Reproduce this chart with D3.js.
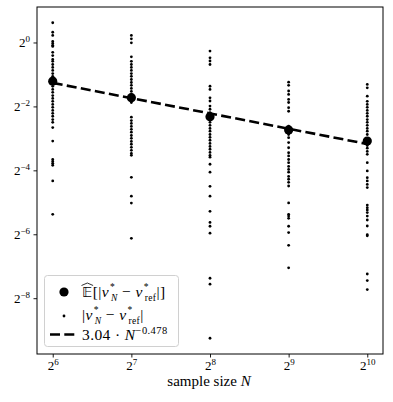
<!DOCTYPE html>
<html><head><meta charset="utf-8">
<script src="https://cdn.jsdelivr.net/npm/d3@7"></script>
<style>
body{margin:0;background:#fff}
svg{display:block}
text{font-family:"Liberation Serif",serif;fill:#000}
</style>
</head><body>
<svg id="c" width="393" height="402"></svg>
<script>
// ---------- data ----------
const sampleSizes = [64, 128, 256, 512, 1024];

const errN64 = [1.533, 1.248, 1.165, 1.021, 0.979, 0.940, 0.917, 0.807, 0.753, 0.693, 0.664, 0.620, 0.582,
  0.545, 0.510, 0.480, 0.412, 0.386, 0.361, 0.339, 0.316, 0.297, 0.279, 0.261, 0.245, 0.229, 0.215,
  0.202, 0.188, 0.177, 0.158, 0.118, 0.0791, 0.0759, 0.0728, 0.0698, 0.0497, 0.0241];
const errN128 = [1.165, 1.083, 0.993, 0.732, 0.664, 0.620, 0.582, 0.545, 0.510, 0.480, 0.448, 0.420, 0.395,
  0.369, 0.346, 0.324, 0.291, 0.272, 0.198, 0.184, 0.173, 0.162, 0.152, 0.143, 0.133, 0.125, 0.117,
  0.110, 0.103, 0.0964, 0.0902, 0.0866, 0.0537, 0.0357, 0.0307, 0.0143];
const errN256 = [0.829, 0.717, 0.669, 0.620, 0.387, 0.361, 0.301, 0.281, 0.252, 0.235, 0.218, 0.188, 0.177,
  0.166, 0.155, 0.146, 0.136, 0.128, 0.120, 0.112, 0.105, 0.0987, 0.0921, 0.0866, 0.0831, 0.0713,
  0.0600, 0.0442, 0.0357, 0.0257, 0.0202, 0.0186, 0.0160, 0.00602, 0.00530, 0.00164];
const errN512 = [0.423, 0.395, 0.349, 0.324, 0.291, 0.272, 0.243, 0.225, 0.163, 0.136, 0.127, 0.114, 0.102,
  0.0915, 0.0854, 0.0791, 0.0738, 0.0681, 0.0638, 0.0600, 0.0548, 0.0515, 0.0482, 0.0445, 0.0308,
  0.0241, 0.0232, 0.0221, 0.0186, 0.0162, 0.0123, 0.00754];
const errN1024 = [0.403, 0.374, 0.312, 0.279, 0.261, 0.245, 0.229, 0.215, 0.202, 0.188, 0.177, 0.166, 0.155,
  0.146, 0.136, 0.115, 0.107, 0.101, 0.0941, 0.0884, 0.0738, 0.0617, 0.0533, 0.0497, 0.0461, 0.0430,
  0.0294, 0.0278, 0.0265, 0.0250, 0.0232, 0.0213, 0.0187, 0.0155, 0.0151, 0.00660, 0.00572, 0.00471];
const errorsBySize = [errN64, errN128, errN256, errN512, errN1024];

const meanErrors = [0.432, 0.302, 0.200, 0.150, 0.118];
const fitCoef = 3.04;
const fitExp = -0.478;

const xTickExps = [6, 7, 8, 9, 10];
const yTickExps = [-8, -6, -4, -2, 0];
const xLabel = "sample size ";
const xLabelVar = "N";

// ---------- layout ----------
const W = 393, H = 402;
const m = {l: 37, t: 7, r: 10, b: 48};
const pw = W - m.l - m.r, ph = H - m.t - m.b;

const svg = d3.select("#c");
const g = svg.append("g").attr("transform", `translate(${m.l},${m.t})`);

const points = [];
sampleSizes.forEach((n, i) => errorsBySize[i].forEach(v => points.push({n, v})));

function padLog(ext) {
  const a = Math.log2(ext[0]), b = Math.log2(ext[1]), p = 0.05 * (b - a);
  return [Math.pow(2, a - p), Math.pow(2, b + p)];
}
const x = d3.scaleLog().base(2).domain(padLog(d3.extent(sampleSizes))).range([0, pw]);
const y = d3.scaleLog().base(2).domain(padLog(d3.extent(points, d => d.v))).range([ph, 0]);

// axes
const xAxis = g.append("g").attr("transform", `translate(0,${ph})`)
  .call(d3.axisBottom(x).tickValues(xTickExps.map(e => Math.pow(2, e))).tickSize(3.5).tickPadding(3).tickFormat(""));
const yAxis = g.append("g")
  .call(d3.axisLeft(y).tickValues(yTickExps.map(e => Math.pow(2, e))).tickSize(3.5).tickPadding(3).tickFormat(""));
[xAxis, yAxis].forEach(a => { a.select(".domain").remove(); a.selectAll("line").attr("stroke", "#000").attr("stroke-width", 0.9); });

xAxis.selectAll(".tick").append("text")
  .attr("y", 16).attr("text-anchor", "middle").attr("font-size", 13)
  .each(function(d) {
    const t = d3.select(this);
    t.append("tspan").text("2");
    t.append("tspan").attr("dy", -5).attr("font-size", 9).text(Math.round(Math.log2(d)));
  });
yAxis.selectAll(".tick").append("text")
  .attr("x", -7).attr("dy", 4.5).attr("text-anchor", "end").attr("font-size", 13)
  .each(function(d) {
    const t = d3.select(this);
    t.append("tspan").text("2");
    t.append("tspan").attr("dy", -5).attr("font-size", 9).text(String(Math.round(Math.log2(d))).replace("-", "\u2212"));
  });

// x label
const xl = svg.append("text").attr("x", m.l + pw / 2 - 1).attr("y", 386).attr("text-anchor", "middle").attr("font-size", 15);
xl.append("tspan").text(xLabel);
xl.append("tspan").attr("font-style", "italic").text(xLabelVar);

// marks
g.append("g").selectAll("circle").data(points).join("circle")
  .attr("cx", d => x(d.n)).attr("cy", d => y(d.v)).attr("r", 1.4).attr("fill", "#000");

g.append("path").datum(sampleSizes)
  .attr("d", d3.line().x(n => x(n)).y(n => y(fitCoef * Math.pow(n, fitExp))))
  .attr("fill", "none").attr("stroke", "#000").attr("stroke-width", 2.6).attr("stroke-dasharray", "10,4.3");

g.append("g").selectAll("circle").data(sampleSizes).join("circle")
  .attr("cx", n => x(n)).attr("cy", (n, i) => y(meanErrors[i])).attr("r", 4.6).attr("fill", "#000");

// frame
g.append("rect").attr("width", pw).attr("height", ph).attr("fill", "none").attr("stroke", "#000").attr("stroke-width", 1);

// legend
const lg = svg.append("g");
lg.append("rect").attr("x", 44.5).attr("y", 275.5).attr("width", 134).attr("height", 71).attr("rx", 3)
  .attr("fill", "#fff").attr("fill-opacity", 0.8).attr("stroke", "#d0d0d0").attr("stroke-width", 1);
lg.append("circle").attr("cx", 64).attr("cy", 292).attr("r", 4.6).attr("fill", "#000");
lg.append("circle").attr("cx", 64).attr("cy", 316).attr("r", 1.4).attr("fill", "#000");
lg.append("line").attr("x1", 50).attr("x2", 78).attr("y1", 334.5).attr("y2", 334.5)
  .attr("stroke", "#000").attr("stroke-width", 2.6).attr("stroke-dasharray", "10,4.3");

function absTerm(t) {
  t.append("tspan").attr("font-style", "italic").text("v");
  t.append("tspan").attr("dx", 1).attr("dy", -7.2).attr("font-size", 9.5).text("*");
  t.append("tspan").attr("dx", -4.2).attr("dy", 10.7).attr("font-size", 9.5).attr("font-style", "italic").text("N");
  t.append("tspan").attr("dy", -3.5).text(" \u2212 ");
  t.append("tspan").attr("font-style", "italic").text("v");
  t.append("tspan").attr("dx", 1).attr("dy", -7.2).attr("font-size", 9.5).text("*");
  t.append("tspan").attr("dx", -4.2).attr("dy", 10.7).attr("font-size", 9.5).text("ref");
}
const t1 = lg.append("text").attr("x", 82).attr("y", 297).attr("font-size", 15.5).attr("letter-spacing", 0.4);
t1.append("tspan").attr("font-family", "DejaVu Sans").attr("font-size", 14).text("\u{1D53C}");
t1.append("tspan").text("[|");
absTerm(t1);
t1.append("tspan").attr("dy", -3.5).text("|]");
const ext = t1.node().getExtentOfChar(0);
lg.append("path")
  .attr("d", `M${ext.x - 0.5},${ext.y + 1.5} L${ext.x + ext.width / 2},${ext.y - 1} L${ext.x + ext.width + 0.5},${ext.y + 1.5}`)
  .attr("fill", "none").attr("stroke", "#000").attr("stroke-width", 0.8);

const t2 = lg.append("text").attr("x", 82).attr("y", 320).attr("font-size", 15.5).attr("letter-spacing", 0.4);
t2.append("tspan").text("|");
absTerm(t2);
t2.append("tspan").attr("dy", -3.5).text("|");

const t3 = lg.append("text").attr("x", 82).attr("y", 340).attr("font-size", 15.5).attr("letter-spacing", 0.4);
t3.append("tspan").text("3.04 \u00B7 ");
t3.append("tspan").attr("font-style", "italic").text("N");
t3.append("tspan").attr("dy", -6).attr("font-size", 10.5).text("\u22120.478");
</script>
</body></html>
